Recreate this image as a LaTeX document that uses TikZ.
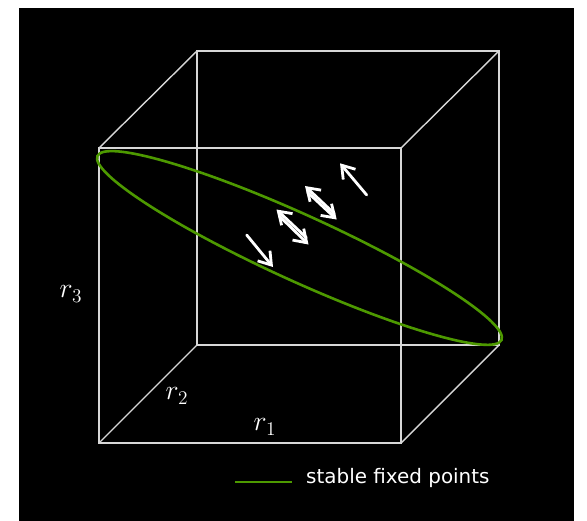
\documentclass[tikz,border=0pt]{standalone}
\usepackage{fontspec}
\newfontfamily\legendfont{DejaVu Sans}
\usetikzlibrary{arrows.meta}
\definecolor{mygreen}{RGB}{77,153,0}
\definecolor{edgegray}{RGB}{215,215,215}
\tikzset{
  cubeedge/.style={edgegray, line width=1.4bp},
  fixedline/.style={mygreen, line width=2.6bp},
  flow/.style={white, line width=2.8bp, line cap=round, -{Straight Barb[length=12bp,width=16bp]}},
  axislabel/.style={white, font=\LARGE, scale=1.62, inner sep=0pt},
  legendtext/.style={white, font=\legendfont\fontsize{20}{24}\selectfont, inner sep=0pt}
}

\begin{document}
\begin{tikzpicture}[x=1bp, y=-1bp]

\useasboundingbox (0,0) rectangle (587,521);
\fill[black] (19,8) rectangle (574,521);

% -------- Cube corners --------
\coordinate (ftl) at (99,148);
\coordinate (ftr) at (401,148);
\coordinate (fbl) at (99,443);
\coordinate (fbr) at (401,443);
\coordinate (btl) at (197,51);
\coordinate (btr) at (499,51);
\coordinate (bbl) at (197,345);
\coordinate (bbr) at (499,345);

% front and back faces
\draw[cubeedge] (ftl) -- (ftr) -- (fbr) -- (fbl) -- cycle;
\draw[cubeedge] (btl) -- (btr) -- (bbr) -- (bbl) -- cycle;
% depth edges
\draw[cubeedge] (ftl) -- (btl);
\draw[cubeedge] (ftr) -- (btr);
\draw[cubeedge] (fbl) -- (bbl);
\draw[cubeedge] (fbr) -- (bbr);

% -------- Fixed points --------
\coordinate (c) at (299.5,248);
\draw[fixedline, rotate around={-24.5:(c)}] (c) ellipse [x radius=222bp, y radius=33bp];

% -------- Flow arrows --------
\coordinate (a1) at (246.7,235);
\coordinate (a1h) at (273,267);
\draw[flow] (a1) -- (a1h);

\coordinate (p2u) at (306.4,237.7);
\coordinate (p2uh) at (276.5,209.5);
\coordinate (p2d) at (279.6,216.3);
\coordinate (p2dh) at (308.5,244.5);
\draw[flow] (p2u) -- (p2uh);
\draw[flow] (p2d) -- (p2dh);

\coordinate (p3u) at (334.4,213.7);
\coordinate (p3uh) at (305,186);
\coordinate (p3d) at (307.6,192.3);
\coordinate (p3dh) at (336.7,219.5);
\draw[flow] (p3u) -- (p3uh);
\draw[flow] (p3d) -- (p3dh);

\coordinate (a4) at (366.7,195);
\coordinate (a4h) at (340,163.3);
\draw[flow] (a4) -- (a4h);

% -------- Axis labels --------
\node[axislabel] (r3) at (71,294) {$r_3$};
\node[axislabel] (r2) at (177,396) {$r_2$};
\node[axislabel] (r1) at (265,427) {$r_1$};

% -------- Legend --------
\coordinate (leg1) at (235,482);
\coordinate (leg2) at (292,482);
\draw[fixedline] (leg1) -- (leg2);
\node[legendtext, anchor=base west] (legtext) at (306,483) {stable fixed points};

\end{tikzpicture}
\end{document}
